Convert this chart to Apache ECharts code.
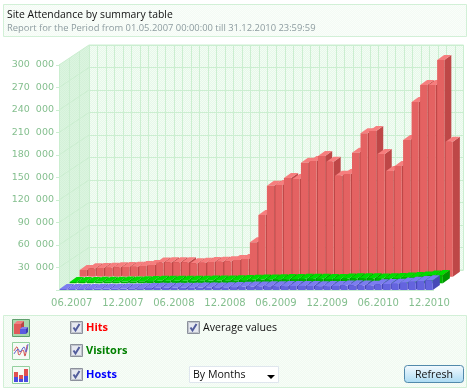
<!DOCTYPE html>
<html>
<head>
<meta charset="utf-8">
<style>
  html, body { margin: 0; padding: 0; background: #fff; }
  #chart { width: 470px; height: 390px; }
</style>
<script src="https://cdn.jsdelivr.net/npm/echarts@6/dist/echarts.min.js"></script>
</head>
<body>
<div id="chart"></div>
<script>
const months = [
  '05.2007', '06.2007', '07.2007', '08.2007', '09.2007', '10.2007', '11.2007', '12.2007',
  '01.2008', '02.2008', '03.2008', '04.2008', '05.2008', '06.2008', '07.2008', '08.2008', '09.2008', '10.2008', '11.2008', '12.2008',
  '01.2009', '02.2009', '03.2009', '04.2009', '05.2009', '06.2009', '07.2009', '08.2009', '09.2009', '10.2009', '11.2009', '12.2009',
  '01.2010', '02.2010', '03.2010', '04.2010', '05.2010', '06.2010', '07.2010', '08.2010', '09.2010', '10.2010', '11.2010', '12.2010'
];
const hits = [
  8900, 11200, 11600, 12000, 12500, 12900, 13300, 14300,
  15600, 18900, 19200, 19200, 19200, 17900, 18700, 19600, 20000, 20500, 22300, 23600,
  45900, 82300, 121300, 122300, 131600, 130300, 152000, 154300, 161000, 153300, 134700, 136900,
  165300, 191200, 194300, 163600, 140900, 147600, 182300, 232900, 255600, 255600, 288900, 180000
];
const visitors = [
  1700, 1800, 1900, 2000, 2100, 2200, 2300, 2500,
  2700, 3000, 3300, 3500, 3400, 3300, 3400, 3500, 3600, 3700, 3900, 4000,
  4300, 4700, 5000, 5200, 5500, 5600, 5800, 6000, 6200, 6000, 5800, 5900,
  6300, 6700, 6900, 6600, 6400, 6600, 7100, 7800, 8500, 9200, 10500, 11000
];
const hosts = [
  1300, 1400, 1400, 1500, 1600, 1600, 1700, 1900,
  2100, 2400, 2700, 3000, 3000, 2900, 3000, 3100, 3200, 3300, 3500, 3600,
  3900, 4200, 4600, 4800, 5000, 5100, 5200, 5400, 5500, 5300, 5100, 5200,
  5500, 5900, 6200, 6000, 5800, 7600, 8000, 8400, 9700, 11000, 12000, 12900
];
const titleText = 'Site Attendance by summary table';
const subtitleText = 'Report for the Period from 01.05.2007 00:00:00 till 31.12.2010 23:59:59';

const FONT = '"Open Sans", "Noto Sans", sans-serif';
const LABEL_GREEN = '#84bf8e';
const LINE_GREEN = '#cbeed0';

const chart = echarts.init(document.getElementById('chart'), null, { renderer: 'canvas' });

// 2x2 checker, the old picture is dithered
function dither(a, b) {
  const c = document.createElement('canvas');
  c.width = c.height = 2;
  const ctx = c.getContext('2d');
  ctx.fillStyle = a;
  ctx.fillRect(0, 0, 2, 2);
  ctx.fillStyle = b;
  ctx.fillRect(0, 0, 1, 1);
  ctx.fillRect(1, 1, 1, 1);
  return { image: c, repeat: 'repeat' };
}

// one row of 3d bars, dx/dy move the row back on the floor
function barRow(name, values, dx, dy, colors) {
  return {
    name,
    type: 'custom',
    xAxisIndex: 0,
    yAxisIndex: 0,
    data: values.map((v, i) => [i, v]),
    encode: { x: 0, y: 1 },
    clip: false,
    silent: true,
    renderItem: (params, api) => {
      const top = api.coord([api.value(0), api.value(1)]);
      const bottom = api.coord([api.value(0), 0]);
      const w = 7.2, sx = 7, sy = -5;
      const x0 = top[0] - w / 2 + dx, x1 = x0 + w;
      const y0 = top[1] + dy, y1 = bottom[1] + dy;
      return {
        type: 'group',
        children: [
          { type: 'polygon', shape: { points: [[x1, y0], [x1 + sx, y0 + sy], [x1 + sx, y1 + sy], [x1, y1]] }, style: { fill: colors[2] } },
          { type: 'polygon', shape: { points: [[x0, y0], [x0 + sx, y0 + sy], [x1 + sx, y0 + sy], [x1, y0]] }, style: { fill: colors[1] } },
          { type: 'rect', shape: { x: x0, y: y0, width: w, height: y1 - y0 }, style: { fill: colors[0] } }
        ]
      };
    }
  };
}

// left wall of the box, between front plane and back wall
const sideWall = {
  type: 'custom',
  xAxisIndex: 0,
  yAxisIndex: 0,
  silent: true,
  clip: false,
  data: [0, 30000, 60000, 90000, 120000, 150000, 180000, 210000, 240000, 270000, 300000].map(v => [0, v]),
  encode: { y: 1 },
  renderItem: (params, api) => {
    const left = params.coordSys.x;
    const y = api.coord([0, api.value(1)])[1];
    const line = { stroke: LINE_GREEN, lineWidth: 1 };
    const children = [];
    if (params.dataIndex === 0) {
      const top = api.coord([0, 300000])[1];
      children.push({
        type: 'polygon',
        shape: { points: [[left, top], [left + 30, top - 20], [left + 30, y - 20], [left, y]] },
        style: { fill: dither('#dcf5e0', '#d4f1d9') }
      });
      [0, 10, 20, 30].forEach(d => {
        children.push({
          type: 'line',
          shape: { x1: left + d + 0.5, y1: top - d * 2 / 3, x2: left + d + 0.5, y2: y - d * 2 / 3 },
          style: line
        });
      });
    }
    children.push({
      type: 'line',
      shape: { x1: left, y1: y, x2: left + 30, y2: y - 20 },
      style: line
    });
    return { type: 'group', children };
  }
};

// bottom panel parts
function checkbox(x, y) {
  return [
    { type: 'rect', shape: { x: x + 0.5, y: y + 0.5, width: 12, height: 12 }, style: { fill: '#e6e8f0', stroke: '#8c919c', lineWidth: 1 } },
    { type: 'rect', shape: { x: x + 1.5, y: y + 1.5, width: 10, height: 10 }, style: { fill: 'none', stroke: '#c0c4cc', lineWidth: 1 } },
    { type: 'polyline', shape: { points: [[x + 3.5, y + 6.5], [x + 5.5, y + 9.5], [x + 9.5, y + 3]] }, style: { fill: 'none', stroke: '#525c9c', lineWidth: 2 } }
  ];
}
function label(text, x, y, color, weight, size) {
  return {
    type: 'text',
    x, y,
    style: { text, fill: color, font: (weight || 'normal') + ' ' + (size || 11) + 'px ' + FONT, textVerticalAlign: 'middle' }
  };
}
function box(x, y, w, h, fill, stroke, extra) {
  return Object.assign({ type: 'rect', shape: { x: x + 0.5, y: y + 0.5, width: w, height: h }, style: { fill, stroke, lineWidth: 1 } }, extra || {});
}

const icon1 = [
  box(12, 319, 17, 17, '#a9d9ae', '#5d9f6c'),
  { type: 'rect', shape: { x: 14, y: 324, width: 7, height: 10 }, style: { fill: '#e05a5a' } },
  { type: 'polygon', shape: { points: [[14, 324], [17, 321], [24, 321], [21, 324]] }, style: { fill: '#f28080' } },
  { type: 'polygon', shape: { points: [[21, 324], [24, 321], [24, 331], [21, 334]] }, style: { fill: '#b84444' } },
  { type: 'rect', shape: { x: 20, y: 329, width: 6, height: 5 }, style: { fill: '#5a5ae0' } },
  { type: 'polygon', shape: { points: [[20, 329], [22, 327], [28, 327], [26, 329]] }, style: { fill: '#8080f0' } },
  { type: 'polygon', shape: { points: [[26, 329], [28, 327], [28, 332], [26, 334]] }, style: { fill: '#3c3cb0' } }
];
const icon2 = [
  box(12, 342, 17, 17, '#f4fbf5', '#93d09e'),
  { type: 'polyline', shape: { smooth: 0.4, points: [[14, 351], [17, 347], [19, 355], [23, 350], [25, 356], [27, 345]] }, style: { fill: 'none', stroke: '#d04848', lineWidth: 1 } },
  { type: 'polyline', shape: { smooth: 0.4, points: [[14, 354], [18, 349], [20, 352], [24, 347], [26, 352], [28, 344]] }, style: { fill: 'none', stroke: '#5a5ad0', lineWidth: 1 } }
];
const icon3 = [
  box(12, 366, 17, 17, '#f4fbf5', '#93d09e'),
  { type: 'rect', shape: { x: 14, y: 372, width: 4, height: 5 }, style: { fill: '#e05050' } },
  { type: 'rect', shape: { x: 14, y: 377, width: 4, height: 5 }, style: { fill: '#4a4ae0' } },
  { type: 'rect', shape: { x: 19, y: 375, width: 4, height: 4 }, style: { fill: '#e05050' } },
  { type: 'rect', shape: { x: 19, y: 379, width: 4, height: 3 }, style: { fill: '#4a4ae0' } },
  { type: 'rect', shape: { x: 24, y: 369, width: 4, height: 7 }, style: { fill: '#e05050' } },
  { type: 'rect', shape: { x: 24, y: 376, width: 4, height: 6 }, style: { fill: '#4a4ae0' } }
];

const option = {
  animation: false,
  backgroundColor: '#fff',
  // grid 0 is the front plane the bars sit on, grid 1 the back wall
  grid: [
    { left: 59, top: 65, width: 374.5, height: 225 },
    {
      show: true, left: 89, top: 45, width: 374.5, height: 225, z: 0,
      backgroundColor: dither('#e6f8e9', '#f3fcf4'), borderColor: LINE_GREEN, borderWidth: 1
    }
  ],
  xAxis: [
    {
      type: 'category',
      gridIndex: 0,
      data: months,
      axisLine: { lineStyle: { color: LINE_GREEN } },
      axisTick: { length: 6, alignWithLabel: true, interval: i => i % 6 === 1, lineStyle: { color: LABEL_GREEN } },
      axisLabel: {
        interval: i => i % 6 === 1,
        color: LABEL_GREEN,
        fontFamily: 'DejaVu Sans',
        fontSize: 10,
        margin: 8
      }
    },
    {
      type: 'category',
      gridIndex: 1,
      data: months,
      axisLine: { show: false },
      axisTick: { show: false },
      axisLabel: { show: false },
      splitLine: { show: true, interval: 0, lineStyle: { color: LINE_GREEN } }
    }
  ],
  yAxis: [
    {
      type: 'value',
      gridIndex: 0,
      min: 0,
      max: 300000,
      interval: 30000,
      axisLine: { show: true, lineStyle: { color: LINE_GREEN } },
      axisTick: { show: true, length: 3, lineStyle: { color: LINE_GREEN } },
      splitLine: { show: false },
      axisLabel: {
        color: LABEL_GREEN,
        fontFamily: 'DejaVu Sans',
        fontSize: 9.5,
        margin: 5,
        formatter: v => (v === 0 ? '' : (v / 1000) + '  000')
      }
    },
    {
      type: 'value',
      gridIndex: 1,
      min: 0,
      max: 300000,
      interval: 30000,
      axisLine: { show: false },
      axisTick: { show: false },
      axisLabel: { show: false },
      splitLine: { show: true, lineStyle: { color: LINE_GREEN } }
    }
  ],
  series: [
    sideWall,
    barRow('Hits', hits, 20, -13.3, ['#e46262', '#f67e7e', '#be4747']),
    barRow('Visitors', visitors, 10, -6.7, ['#00b400', '#00dc00', '#009600']),
    barRow('Hosts', hosts, 0, 0, ['#6464de', '#7c7cf0', '#4848b8'])
  ],
  graphic: {
    elements: [
      box(3, 4, 463, 32, dither('#f3fbf4', '#fafdfa'), '#d2f0d7', { z: -1 }),
      label(titleText, 7, 15, '#111', 'normal', 10.4),
      label(subtitleText, 7, 28, '#8d9ca0', 'normal', 9.4),
      box(3, 315, 463, 72, dither('#f0faf1', '#f8fdf8'), '#d2f0d7', { z: -1 }),
      ...icon1, ...icon2, ...icon3,
      ...checkbox(70, 321),
      label('Hits', 86, 328, '#ff0000', 'bold', 11),
      ...checkbox(70, 344),
      label('Visitors', 86, 351, '#008000', 'bold', 11),
      ...checkbox(70, 368),
      label('Hosts', 86, 375, '#0000ff', 'bold', 11),
      ...checkbox(187, 321),
      label('Average values', 203, 328, '#111', 'normal', 10.6),
      box(189, 366, 89, 16, '#fff', '#dfe6ee'),
      label('By Months', 193, 375, '#111', 'normal', 10.6),
      { type: 'polygon', shape: { points: [[267, 375], [275, 375], [271, 379]] }, style: { fill: '#000' } },
      {
        type: 'rect',
        shape: { x: 404.5, y: 365.5, width: 59, height: 17, r: 3 },
        style: {
          stroke: '#5189ab',
          lineWidth: 1,
          fill: new echarts.graphic.LinearGradient(0, 0, 0, 1, [
            { offset: 0, color: '#f6fbff' },
            { offset: 1, color: '#a9daf3' }
          ])
        }
      },
      {
        type: 'text',
        x: 434, y: 375,
        style: { text: 'Refresh', fill: '#111', font: '10.6px ' + FONT, textAlign: 'center', textVerticalAlign: 'middle' }
      }
    ]
  }
};

chart.setOption(option);
</script>
</body>
</html>
